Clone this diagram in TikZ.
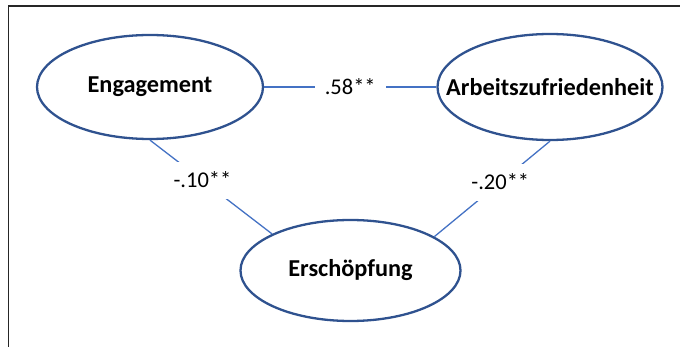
\documentclass[tikz,border=0pt]{standalone}
\usepackage{fontspec}
\setmainfont{Carlito}
\usetikzlibrary{shapes.geometric}
\definecolor{ellblue}{HTML}{2F528F}
\definecolor{linkblue}{HTML}{4472C4}
\newcommand{\zerow}[1]{\makebox[0pt][c]{#1}}
\begin{document}
\begin{tikzpicture}[x=1pt,y=-1pt,
  construct/.style={ellipse, draw=ellblue, line width=2.3pt, inner sep=0pt,
    font=\fontsize{24.3}{28}\selectfont\bfseries},
  link/.style={draw=linkblue, line width=1.3pt},
  coef/.style={fill=white, inner xsep=10pt, inner ysep=11pt, text height=15pt, text depth=0pt,
    font=\fontsize{22.5}{26}\selectfont}]
\useasboundingbox (0,0) rectangle (680,347);
\coordinate (frTL) at (8.5,6);
\coordinate (frTR) at (680,6);
\coordinate (frBL) at (8.5,347);
\draw[black!85, line width=1.5pt] (frTR) -- (frTL) -- (frBL);
\node[construct, minimum width=226pt, minimum height=104pt] (eng) at (150,87) {\zerow{Engagement}};
\node[construct, minimum width=225pt, minimum height=106pt] (arb) at (550,87) {\zerow{Arbeitszufriedenheit}};
\node[construct, minimum width=220pt, minimum height=101pt] (ers) at (350.5,270.5) {\zerow{Erschöpfung}};
\draw[link] (eng.east) -- node[coef, pos=0.5] (c1) {.58**} (arb.west);
\draw[link] (eng.south) -- node[coef, pos=0.43] (c2) {-.10**} (ers.155);
\draw[link] (arb.south) -- node[coef, pos=0.43] (c3) {-.20**} (ers.22);
\end{tikzpicture}
\end{document}
